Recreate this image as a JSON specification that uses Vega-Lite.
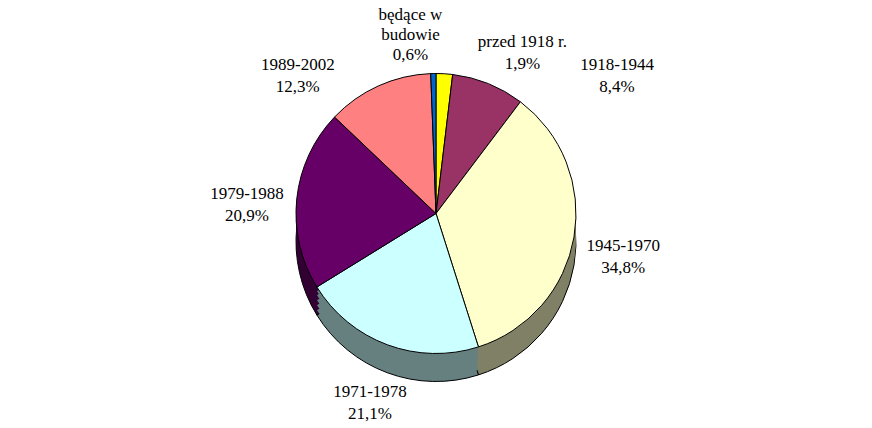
{
  "$schema": "https://vega.github.io/schema/vega-lite/v6.json",
  "width": 872,
  "height": 428,
  "autosize": {"type": "fit", "contains": "padding"},
  "padding": 0,
  "background": "white",
  "config": {"view": {"stroke": null}},
  "data": {
    "values": [
      {"k": 1, "cat": "przed 1918 r.", "pct": 1.9, "label": "przed 1918 r.\n1,9%", "top": "#FFFF00", "side": "#808000"},
      {"k": 2, "cat": "1918-1944", "pct": 8.4, "label": "1918-1944\n8,4%", "top": "#993366", "side": "#4D1A33"},
      {"k": 3, "cat": "1945-1970", "pct": 34.8, "label": "1945-1970\n34,8%", "top": "#FFFFCC", "side": "#808066"},
      {"k": 4, "cat": "1971-1978", "pct": 21.1, "label": "1971-1978\n21,1%", "top": "#CCFFFF", "side": "#668080"},
      {"k": 5, "cat": "1979-1988", "pct": 20.9, "label": "1979-1988\n20,9%", "top": "#660066", "side": "#330033"},
      {"k": 6, "cat": "1989-2002", "pct": 12.3, "label": "1989-2002\n12,3%", "top": "#FF8080", "side": "#804040"},
      {"k": 7, "cat": "będące w budowie", "pct": 0.6, "label": "będące w\nbudowie\n0,6%", "top": "#0066CC", "side": "#003366"}
    ]
  },
  "encoding": {
    "theta": {"field": "pct", "type": "quantitative", "stack": true},
    "order": {"field": "k", "type": "quantitative"}
  },
  "layer": [
    {
      "mark": {"type": "arc", "outerRadius": 140, "yOffset": 28, "stroke": "black", "strokeWidth": 1},
      "encoding": {"color": {"field": "side", "type": "nominal", "scale": null}}
    },
    {
      "mark": {"type": "arc", "outerRadius": 140, "yOffset": 23},
      "encoding": {"color": {"field": "side", "type": "nominal", "scale": null}}
    },
    {
      "mark": {"type": "arc", "outerRadius": 140, "yOffset": 18},
      "encoding": {"color": {"field": "side", "type": "nominal", "scale": null}}
    },
    {
      "mark": {"type": "arc", "outerRadius": 140, "yOffset": 13},
      "encoding": {"color": {"field": "side", "type": "nominal", "scale": null}}
    },
    {
      "mark": {"type": "arc", "outerRadius": 140, "yOffset": 8},
      "encoding": {"color": {"field": "side", "type": "nominal", "scale": null}}
    },
    {
      "mark": {"type": "arc", "outerRadius": 140, "yOffset": 4},
      "encoding": {"color": {"field": "side", "type": "nominal", "scale": null}}
    },
    {
      "mark": {"type": "arc", "outerRadius": 140, "stroke": "black", "strokeWidth": 1},
      "encoding": {"color": {"field": "top", "type": "nominal", "scale": null}}
    },
    {
      "mark": {"type": "text", "font": "Liberation Serif", "fontSize": 17, "lineBreak": "\n", "color": "black", "lineHeight": 22},
      "encoding": {
        "radius": {"value": 190},
        "text": {"condition": {"test": "datum.k >= 3 && datum.k <= 5", "field": "label"}, "value": ""}
      }
    },
    {
      "mark": {"type": "text", "font": "Liberation Serif", "fontSize": 17, "lineBreak": "\n", "color": "black", "lineHeight": 22, "dx": -60, "dy": 25},
      "encoding": {
        "radius": {"value": 190},
        "text": {"condition": {"test": "datum.k == 6", "field": "label"}, "value": ""}
      }
    },
    {
      "mark": {"type": "text", "font": "Liberation Serif", "fontSize": 17, "lineBreak": "\n", "color": "black", "lineHeight": 22, "dx": 110, "dy": 28},
      "encoding": {
        "radius": {"value": 190},
        "text": {"condition": {"test": "datum.k == 2", "field": "label"}, "value": ""}
      }
    },
    {
      "mark": {"type": "text", "font": "Liberation Serif", "fontSize": 17, "lineBreak": "\n", "color": "black", "lineHeight": 22, "dx": 75, "dy": 18},
      "encoding": {
        "radius": {"value": 190},
        "text": {"condition": {"test": "datum.k == 1", "field": "label"}, "value": ""}
      }
    },
    {
      "mark": {"type": "text", "font": "Liberation Serif", "fontSize": 17, "lineBreak": "\n", "color": "black", "lineHeight": 20, "dx": -22, "dy": -9},
      "encoding": {
        "radius": {"value": 190},
        "text": {"condition": {"test": "datum.k == 7", "field": "label"}, "value": ""}
      }
    }
  ]
}
